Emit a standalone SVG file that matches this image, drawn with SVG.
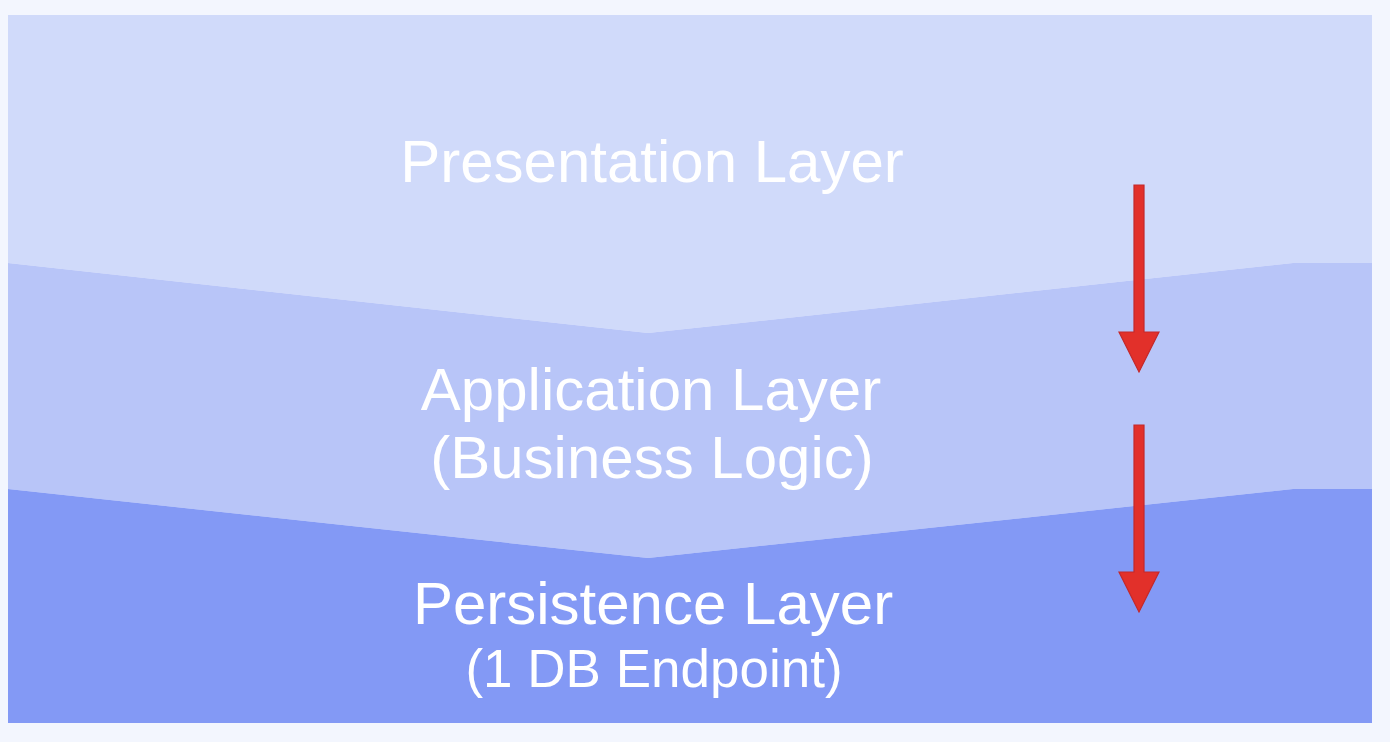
<svg xmlns="http://www.w3.org/2000/svg" width="1390" height="742" viewBox="0 0 1390 742">
  <style>
    .lbl { font-family: "Liberation Sans", Arial, Helvetica, sans-serif; fill: #ffffff; text-anchor: middle; }
    .big { font-size: 60px; }
    .small { font-size: 53px; }
    .arrow { fill: #e2302a; stroke: #c4282a; stroke-width: 1.2; stroke-linejoin: miter; }
  </style>
  <rect x="0" y="0" width="1390" height="742" fill="#f3f6fe"/>
  <g id="presentation-layer">
    <polygon points="8,15 1372,15 1372,263 1293,263 648,333 8,263" fill="#d0dafa"/>
    <text class="lbl big" x="652" y="182">Presentation Layer</text>
  </g>
  <g id="application-layer">
    <polygon points="8,263 648,333 1293,263 1372,263 1372,489 1293,489 648,558 8,489" fill="#b8c5f8"/>
    <text class="lbl big" x="651" y="410">Application Layer</text>
    <text class="lbl big" x="652" y="478">(Business Logic)</text>
  </g>
  <g id="persistence-layer">
    <polygon points="8,489 648,558 1293,489 1372,489 1372,723 8,723" fill="#8399f5"/>
    <text class="lbl big" x="653" y="624">Persistence Layer</text>
    <text class="lbl small" x="654" y="687">(1 DB Endpoint)</text>
  </g>
  <g id="connectors">
    <polygon class="arrow" points="1134,185 1144,185 1144,332 1159,332 1139,372 1119,332 1134,332"/>
    <polygon class="arrow" points="1134,425 1144,425 1144,572 1159,572 1139,612 1119,572 1134,572"/>
  </g>
</svg>
